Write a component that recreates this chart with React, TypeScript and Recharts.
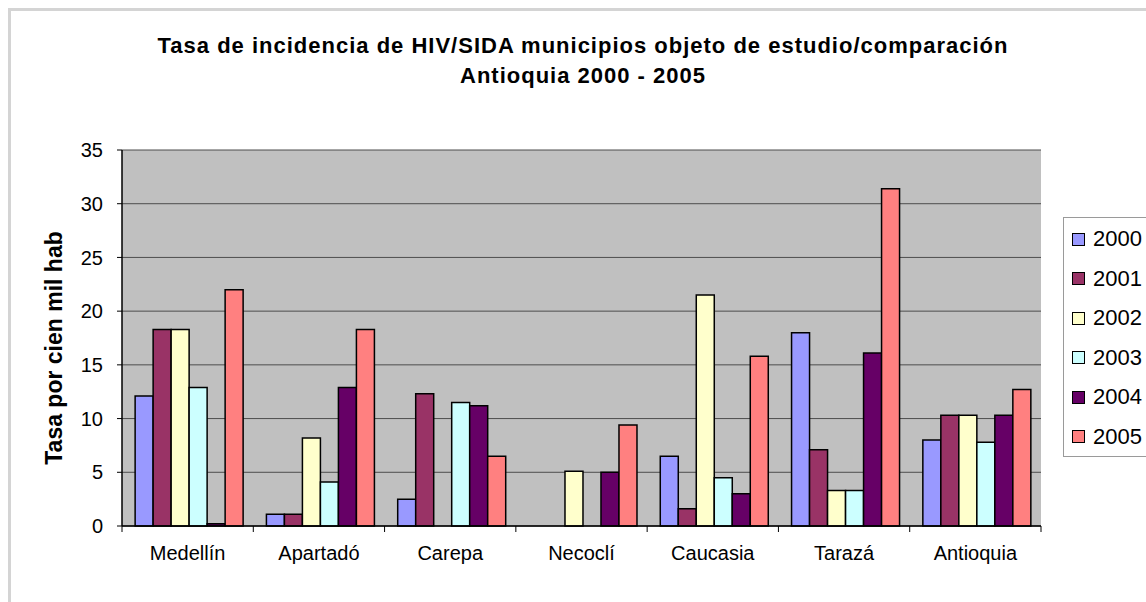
import { BarChart, Bar, XAxis, YAxis, CartesianGrid } from 'recharts';

const categories = ['Medellín', 'Apartadó', 'Carepa', 'Necoclí', 'Caucasia', 'Tarazá', 'Antioquia'];
const years = ['2000', '2001', '2002', '2003', '2004', '2005'];
const colors = ['#9999FF', '#993366', '#FFFFCC', '#CCFFFF', '#660066', '#FF8080'];

const v2000 = [12.1, 1.1, 2.5, 0, 6.5, 18.0, 8.0];
const v2001 = [18.3, 1.1, 12.3, 0, 1.6, 7.1, 10.3];
const v2002 = [18.3, 8.2, 0, 5.1, 21.5, 3.3, 10.3];
const v2003 = [12.9, 4.1, 11.5, 0, 4.5, 3.3, 7.8];
const v2004 = [0.2, 12.9, 11.2, 5.0, 3.0, 16.1, 10.3];
const v2005 = [22.0, 18.3, 6.5, 9.4, 15.8, 31.4, 12.7];

const yTicks = [0, 5, 10, 15, 20, 25, 30, 35];

const series = [v2000, v2001, v2002, v2003, v2004, v2005];
const data = categories.map((name, i) => {
  const row: Record<string, string | number> = { name };
  years.forEach((y, k) => { row[y] = series[k][i]; });
  return row;
});

const FONT = '"Liberation Sans", Arial, sans-serif';

function YLabel({ viewBox }: { viewBox?: { x: number; y: number; width: number; height: number } }) {
  if (!viewBox) return null;
  const cx = viewBox.x + 54;
  const cy = viewBox.y + viewBox.height / 2 + 10;
  return (
    <text
      x={cx}
      y={cy}
      transform={`rotate(-90, ${cx}, ${cy})`}
      textAnchor="middle"
      dominantBaseline="central"
      fontFamily={FONT}
      fontWeight="bold"
      fontSize={23}
      fill="#000"
    >
      Tasa por cien mil hab
    </text>
  );
}

// category label plus Excel-style tick marks on the category boundaries
function CatTick(props: any) {
  const { x, y, payload, width, visibleTicksCount, index } = props;
  const half = width / visibleTicksCount / 2;
  const axisY = y - 20;
  return (
    <g>
      <line x1={x - half} x2={x - half} y1={axisY} y2={axisY + 6} stroke="#000" />
      {index === visibleTicksCount - 1 && (
        <line x1={x + half} x2={x + half} y1={axisY} y2={axisY + 6} stroke="#000" />
      )}
      <text x={x} y={y} dy="0.71em" textAnchor="middle" fill="#000" fontSize={20} fontFamily={FONT}>
        {payload.value}
      </text>
    </g>
  );
}

export default function App() {
  return (
    <div style={{ position: 'absolute', left: 0, top: 0, width: 1146, height: 602, background: '#fff', overflow: 'hidden', fontFamily: FONT }}>
      {/* outer frame */}
      <div style={{ position: 'absolute', left: 8, top: 8, width: 1200, height: 700, borderTop: '3px solid #d4d4d4', borderLeft: '3px solid #d4d4d4' }} />

      <div style={{ position: 'absolute', left: 18, top: 31, width: 1130, textAlign: 'center', fontWeight: 'bold', fontSize: 22, letterSpacing: 1, lineHeight: '30px', color: '#000' }}>
        <div>Tasa de incidencia de HIV/SIDA municipios objeto de estudio/comparación</div>
        <div>Antioquia 2000 - 2005</div>
      </div>

      <div style={{ position: 'absolute', left: 0, top: 0 }}>
        <BarChart
          width={1146}
          height={602}
          data={data}
          margin={{ top: 150, right: 105, bottom: 26, left: 0 }}
          barCategoryGap="10%"
          barGap={0}
        >
          <CartesianGrid fill="#C0C0C0" stroke="#4d4d4d" vertical={false} />
          <XAxis
            dataKey="name"
            height={50}
            tickSize={0}
            tickMargin={20}
            axisLine={{ stroke: '#000', strokeWidth: 1.5 }}
            tickLine={false}
            tick={<CatTick />}
            interval={0}
          />
          <YAxis
            width={122}
            domain={[0, 35]}
            ticks={yTicks}
            interval={0}
            tickSize={5}
            tickMargin={14}
            axisLine={{ stroke: '#000', strokeWidth: 1.5 }}
            tickLine={{ stroke: '#000' }}
            tick={{ fill: '#000', fontSize: 20, fontFamily: FONT }}
            label={{ value: 'Tasa por cien mil hab', content: <YLabel /> }}
          />
          {years.map((y, k) => (
            <Bar
              key={y}
              dataKey={y}
              fill={colors[k]}
              stroke="#000"
              strokeWidth={1.5}
              isAnimationActive={false}
            />
          ))}
        </BarChart>
      </div>

      {/* legend */}
      <div style={{ position: 'absolute', left: 1063, top: 217, width: 120, height: 238, border: '1px solid #9a9a9a', background: '#fff' }}>
        {years.map((y, k) => (
          <div key={y} style={{ position: 'absolute', left: 8, top: 8 + k * 39.5, height: 26, display: 'flex', alignItems: 'center' }}>
            <span style={{ display: 'inline-block', width: 11, height: 11, background: colors[k], border: '1.5px solid #000', marginRight: 8 }} />
            <span style={{ fontSize: 22, color: '#000' }}>{y}</span>
          </div>
        ))}
      </div>
    </div>
  );
}
